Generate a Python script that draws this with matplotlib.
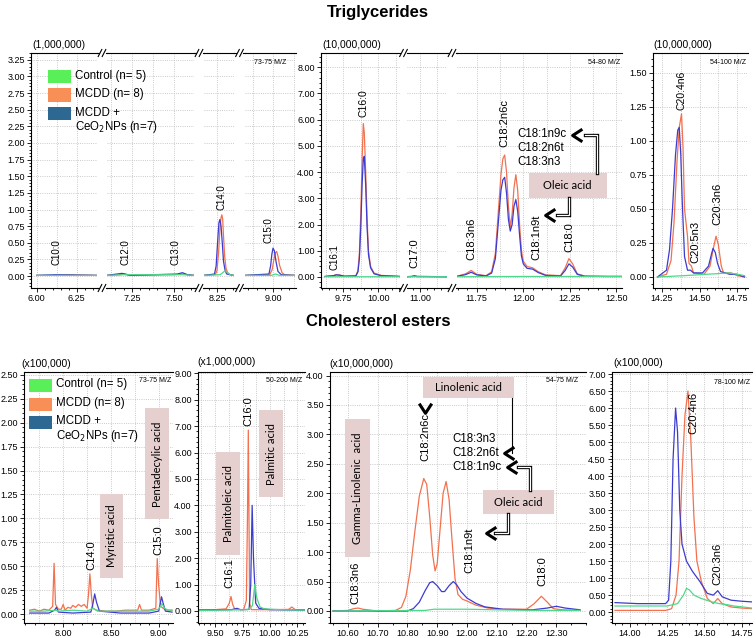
import matplotlib.pyplot as plt
from matplotlib.lines import Line2D
from matplotlib.patches import Rectangle
from matplotlib.path import Path
from matplotlib.ticker import FixedLocator, FixedFormatter, MultipleLocator, FormatStrFormatter
import numpy as np

W, H = 756, 638
plt.rcParams['font.family'] = ['Liberation Sans', 'DejaVu Sans']

GREEN = '#4ed98a'
ORANGE = '#f2714f'
BLUE = '#3c3cd0'
LEGEND_COLORS = ['#58ef58', '#f78f57', '#2d6892']
LEGEND_LABELS = ['Control (n= 5)', 'MCDD (n= 8)', 'MCDD +\nCeO$_2$NPs (n=7)']
BOX = '#e6cfcf'
GRID = '#b8b8b8'

# ---------------- Triglycerides, 73-75 M/Z (x 1,000,000) ----------------
TL_X_CTRL = [6.00, 6.37, 7.10, 7.20, 7.55, 7.62, 8.17, 8.27, 8.29, 8.30, 8.315, 8.33, 8.35,
             8.83, 8.99, 9.015, 9.04, 9.13]
TL_Y_CTRL = [0.01, 0.01, 0.01, 0.02, 0.02, 0.01, 0.01, 0.02, 0.06, 0.08, 0.05, 0.02, 0.01,
             0.01, 0.01, 0.03, 0.01, 0.01]
TL_X_MCDD = [6.00, 6.10, 6.20, 6.37, 7.10, 7.18, 7.20, 7.23, 7.50, 7.55, 7.58, 7.62,
             8.17, 8.24, 8.25, 8.26, 8.268, 8.275, 8.28, 8.285, 8.29, 8.297, 8.305, 8.315, 8.33, 8.35,
             8.83, 8.98, 8.995, 9.005, 9.015, 9.022, 9.03, 9.04, 9.055, 9.07, 9.13]
TL_Y_MCDD = [0.01, 0.01, 0.02, 0.01, 0.01, 0.02, 0.03, 0.01, 0.02, 0.03, 0.02, 0.01,
             0.01, 0.02, 0.08, 0.35, 0.70, 0.88, 0.92, 0.85, 0.60, 0.30, 0.12, 0.05, 0.02, 0.01,
             0.01, 0.02, 0.10, 0.25, 0.35, 0.37, 0.30, 0.16, 0.05, 0.02, 0.01]
TL_X_CEO = [6.00, 6.12, 6.37, 7.10, 7.19, 7.21, 7.24, 7.52, 7.55, 7.58, 7.62,
            8.17, 8.235, 8.245, 8.255, 8.262, 8.268, 8.275, 8.283, 8.29, 8.30, 8.31, 8.33, 8.35,
            8.83, 8.975, 8.985, 8.993, 9.00, 9.008, 9.018, 9.03, 9.05, 9.13]
TL_Y_CEO = [0.01, 0.02, 0.01, 0.01, 0.04, 0.03, 0.01, 0.03, 0.05, 0.02, 0.01,
            0.01, 0.03, 0.15, 0.55, 0.80, 0.85, 0.75, 0.48, 0.22, 0.08, 0.03, 0.02, 0.01,
            0.01, 0.03, 0.15, 0.33, 0.42, 0.38, 0.22, 0.07, 0.02, 0.01]

# ---------------- Triglycerides, 54-80 M/Z (x 10,000,000) ----------------
TM_X_CTRL = [9.62, 10.16, 10.90, 11.19, 11.64, 12.00, 12.54]
TM_Y_CTRL = [0.01, 0.01, 0.01, 0.01, 0.01, 0.02, 0.02]
TM_X = [9.62, 9.68, 9.70, 9.72, 9.76, 9.84, 9.855, 9.865, 9.875, 9.885, 9.893, 9.90, 9.91, 9.92,
        9.93, 9.945, 9.97, 10.02, 10.16,
        10.90, 10.94, 10.96, 10.98, 11.19,
        11.64, 11.69, 11.72, 11.75, 11.80, 11.83, 11.85, 11.865, 11.88, 11.89, 11.90, 11.91, 11.92,
        11.93, 11.94, 11.95, 11.96, 11.97, 11.98, 11.99, 12.00, 12.02, 12.05, 12.08, 12.12, 12.20,
        12.225, 12.245, 12.265, 12.29, 12.33, 12.45, 12.54]
TM_Y_MCDD = [0.02, 0.05, 0.09, 0.08, 0.03, 0.05, 0.25, 0.9, 2.4, 4.6, 5.85, 5.5, 4.0, 2.2,
             1.0, 0.4, 0.15, 0.06, 0.02,
             0.01, 0.02, 0.05, 0.02, 0.01,
             0.02, 0.12, 0.25, 0.10, 0.05, 0.2, 0.9, 2.4, 3.9, 4.5, 4.65, 4.0, 2.7,
             1.9, 2.4, 3.4, 3.9, 3.3, 2.0, 1.0, 0.6, 0.4, 0.35, 0.2, 0.08, 0.05,
             0.35, 0.7, 0.5, 0.12, 0.03, 0.02, 0.02]
TM_Y_CEO = [0.02, 0.05, 0.08, 0.07, 0.03, 0.04, 0.2, 0.7, 1.9, 3.6, 4.5, 4.6, 3.5, 1.9,
            0.85, 0.35, 0.12, 0.05, 0.02,
            0.01, 0.02, 0.04, 0.02, 0.01,
            0.02, 0.09, 0.18, 0.08, 0.04, 0.15, 0.7, 2.0, 3.3, 3.7, 3.8, 3.2, 2.2,
            1.75, 2.0, 2.7, 2.95, 2.5, 1.6, 0.8, 0.5, 0.33, 0.3, 0.17, 0.06, 0.04,
            0.25, 0.5, 0.38, 0.1, 0.03, 0.02, 0.02]

# ---------------- Triglycerides, 54-100 M/Z (x 10,000,000) ----------------
TR_X_CTRL = [14.22, 14.40, 14.55, 14.70, 14.80]
TR_Y_CTRL = [0.0, 0.01, 0.02, 0.03, 0.01]
TR_X_MCDD = [14.22, 14.28, 14.31, 14.33, 14.35, 14.365, 14.38, 14.39, 14.40, 14.41, 14.42, 14.43,
             14.446, 14.46, 14.53, 14.57, 14.59, 14.61, 14.625, 14.645, 14.66, 14.71, 14.75, 14.80]
TR_Y_MCDD = [0.0, 0.02, 0.12, 0.40, 0.85, 1.10, 1.20, 0.95, 0.50, 0.40, 0.30, 0.10,
             0.08, 0.03, 0.02, 0.08, 0.20, 0.30, 0.24, 0.08, 0.03, 0.03, 0.01, 0.0]
TR_X_CEO = [14.22, 14.28, 14.30, 14.32, 14.34, 14.355, 14.365, 14.375, 14.385, 14.40, 14.42,
            14.44, 14.46, 14.52, 14.56, 14.58, 14.59, 14.605, 14.62, 14.64, 14.70, 14.75, 14.80]
TR_Y_CEO = [0.0, 0.05, 0.20, 0.50, 0.90, 1.08, 1.10, 0.90, 0.55, 0.15, 0.05,
            0.05, 0.03, 0.03, 0.08, 0.17, 0.21, 0.18, 0.10, 0.04, 0.02, 0.02, 0.0]

# ---------------- Cholesterol esters, 73-75 M/Z (x 100,000) ----------------
BL_X_CTRL = [7.65, 7.80, 7.92, 7.95, 8.10, 8.25, 8.31, 8.33, 8.36, 8.50, 8.70, 8.90,
             9.00, 9.035, 9.06, 9.10, 9.14]
BL_Y_CTRL = [0.03, 0.03, 0.04, 0.03, 0.04, 0.03, 0.06, 0.05, 0.03, 0.03, 0.03, 0.03,
             0.05, 0.11, 0.06, 0.04, 0.04]
BL_X_MCDD = [7.65, 7.70, 7.75, 7.80, 7.85, 7.89, 7.905, 7.92, 7.95, 7.98, 8.00, 8.02, 8.05,
             8.08, 8.10, 8.13, 8.16, 8.19, 8.22, 8.25, 8.265, 8.28, 8.295, 8.31, 8.35, 8.45,
             8.55, 8.65, 8.78, 8.80, 8.82, 8.90, 8.97, 8.985, 9.00, 9.02, 9.06, 9.10, 9.14]
BL_Y_MCDD = [0.04, 0.05, 0.03, 0.05, 0.04, 0.08, 0.53, 0.10, 0.05, 0.05, 0.10, 0.04, 0.07,
             0.06, 0.09, 0.07, 0.10, 0.08, 0.10, 0.06, 0.20, 0.42, 0.20, 0.06, 0.04, 0.03,
             0.03, 0.04, 0.04, 0.10, 0.04, 0.04, 0.06, 0.58, 0.30, 0.08, 0.05, 0.04, 0.04]
BL_X_CEO = [7.65, 7.85, 7.91, 7.93, 7.95, 8.10, 8.29, 8.31, 8.33, 8.35, 8.38, 8.60, 8.90,
            9.00, 9.015, 9.03, 9.045, 9.07, 9.14]
BL_Y_CEO = [0.01, 0.01, 0.04, 0.07, 0.02, 0.01, 0.02, 0.10, 0.21, 0.12, 0.03, 0.01, 0.01,
            0.03, 0.10, 0.18, 0.12, 0.03, 0.02]

# ---------------- Cholesterol esters, 50-200 M/Z (x 1,000,000) ----------------
B2_X_CTRL = [9.36, 9.80, 9.84, 9.862, 9.88, 9.91, 9.95, 10.10, 10.32]
B2_Y_CTRL = [0.02, 0.05, 0.20, 1.00, 0.50, 0.15, 0.08, 0.05, 0.03]
B2_X_MCDD = [9.36, 9.50, 9.60, 9.63, 9.645, 9.66, 9.68, 9.76, 9.785, 9.795, 9.803, 9.81,
             9.815, 9.83, 10.00, 10.17, 10.20, 10.23, 10.32]
B2_Y_MCDD = [0.05, 0.05, 0.08, 0.30, 0.55, 0.25, 0.06, 0.05, 0.40, 3.50, 6.85, 3.00,
             0.30, 0.05, 0.05, 0.06, 0.15, 0.05, 0.05]
B2_X_CEO = [9.36, 9.65, 9.70, 9.73, 9.81, 9.825, 9.838, 9.85, 9.87, 9.90, 10.00, 10.32]
B2_Y_CEO = [0.03, 0.05, 0.10, 0.05, 0.06, 1.00, 4.00, 2.00, 0.30, 0.10, 0.05, 0.03]

# ---------------- Cholesterol esters, 54-75 M/Z (x 10,000,000) ----------------
B3_TICKS = [10.60, 10.70, 10.80, 10.90, 11.00, 11.10, 11.20, 11.30]
B3_TICKLABELS = ['10.60', '10.70', '10.80', '10.90', '12.00', '12.10', '12.20', '12.30']
B3_X_CTRL = [10.55, 10.86, 10.89, 11.00, 11.10, 11.25, 11.38]
B3_Y_CTRL = [0.0, 0.01, 0.03, 0.03, 0.02, 0.01, 0.01]
B3_X_MCDD = [10.55, 10.60, 10.62, 10.635, 10.65, 10.70, 10.76, 10.78, 10.795, 10.81, 10.825,
             10.84, 10.855, 10.865, 10.875, 10.885, 10.893, 10.90, 10.91, 10.92, 10.93, 10.94,
             10.95, 10.96, 10.97, 10.985, 11.00, 11.03, 11.07, 11.12, 11.20, 11.225, 11.25,
             11.27, 11.29, 11.32, 11.38]
B3_Y_MCDD = [0.0, 0.01, 0.04, 0.05, 0.03, 0.0, 0.01, 0.06, 0.25, 0.70, 1.35,
             1.95, 2.25, 2.15, 1.60, 0.95, 0.68, 0.80, 1.40, 2.00, 2.20, 1.90,
             1.20, 0.55, 0.28, 0.20, 0.17, 0.10, 0.05, 0.03, 0.03, 0.12, 0.25,
             0.15, 0.04, 0.02, 0.01]
B3_X_CEO = [10.55, 10.80, 10.82, 10.84, 10.86, 10.875, 10.885, 10.90, 10.915, 10.925, 10.94,
            10.954, 10.965, 10.98, 11.00, 11.03, 11.06, 11.12, 11.22, 11.27, 11.30, 11.33, 11.38]
B3_Y_CEO = [0.0, 0.0, 0.04, 0.15, 0.35, 0.48, 0.50, 0.43, 0.33, 0.33, 0.43,
            0.50, 0.45, 0.33, 0.22, 0.13, 0.07, 0.03, 0.02, 0.05, 0.08, 0.05, 0.02]

# ---------------- Cholesterol esters, 78-100 M/Z (x 100,000) ----------------
BR_X_CTRL = [13.90, 14.10, 14.25, 14.32, 14.36, 14.38, 14.40, 14.43, 14.48, 14.55, 14.60,
             14.65, 14.70, 14.82]
BR_Y_CTRL = [0.18, 0.18, 0.18, 0.25, 0.50, 0.70, 0.65, 0.50, 0.40, 0.30, 0.25,
             0.22, 0.18, 0.12]
BR_X_MCDD = [13.90, 14.10, 14.24, 14.28, 14.31, 14.33, 14.35, 14.37, 14.39, 14.41, 14.43,
             14.45, 14.48, 14.52, 14.56, 14.59, 14.62, 14.68, 14.75, 14.82]
BR_Y_MCDD = [0.05, 0.05, 0.05, 0.10, 0.50, 1.50, 4.00, 5.80, 6.50, 5.00, 2.80,
             1.50, 0.90, 0.40, 0.25, 0.40, 0.25, 0.15, 0.12, 0.10]
BR_X_CEO = [13.90, 14.05, 14.15, 14.24, 14.26, 14.275, 14.29, 14.307, 14.32, 14.335, 14.35,
            14.38, 14.42, 14.47, 14.52, 14.56, 14.59, 14.62, 14.68, 14.75, 14.82]
BR_Y_CEO = [0.28, 0.25, 0.25, 0.25, 0.35, 1.50, 4.50, 6.00, 5.30, 3.00, 2.00,
            1.50, 1.20, 0.90, 0.55, 0.50, 0.63, 0.45, 0.35, 0.32, 0.30]


fig = plt.figure(figsize=(W / 100, H / 100), dpi=100)


def fx(x):
    return x / W


def fy(y):
    return 1 - y / H


def make_ax(x0, x1, y0, y1, xlim, ylim, xmajor, xminor, xgrid, ystep, left=True, xlabels=None):
    ax = fig.add_axes([fx(x0), fy(y1), (x1 - x0) / W, (y1 - y0) / H])
    ax.set_xlim(*xlim)
    ax.set_ylim(*ylim)
    ax.spines['right'].set_visible(False)
    if not left:
        ax.spines['left'].set_visible(False)
    for s in ax.spines.values():
        s.set_linewidth(0.8)
    ax.xaxis.set_major_locator(FixedLocator(xmajor))
    if xlabels:
        ax.xaxis.set_major_formatter(FixedFormatter(xlabels))
    else:
        ax.xaxis.set_major_formatter(FormatStrFormatter('%.2f'))
    ax.xaxis.set_minor_locator(MultipleLocator(xminor))
    ax.yaxis.set_major_locator(MultipleLocator(ystep))
    ax.yaxis.set_minor_locator(MultipleLocator(ystep / 5))
    ax.yaxis.set_major_formatter(FormatStrFormatter('%.2f'))
    ax.tick_params(which='both', direction='out', labelsize=6.5, width=0.6, pad=1.5)
    ax.tick_params(which='major', length=3)
    ax.tick_params(which='minor', length=1.5)
    ax.tick_params(axis='x', which='both', top=False)
    if not left:
        ax.tick_params(axis='y', which='both', left=False, labelleft=False)
    start = np.ceil(xlim[0] / xgrid - 1e-6) * xgrid
    for gx in np.arange(start, xlim[1], xgrid):
        ax.axvline(gx, color=GRID, ls=':', lw=0.6, zorder=0)
    ax.yaxis.grid(True, ls=':', color=GRID, lw=0.6)
    ax.set_axisbelow(True)
    ax.patch.set_alpha(0)
    return ax


def curves(ax, ctrl, mcdd, ceo):
    ax.plot(mcdd[0], mcdd[1], color=ORANGE, lw=0.9)
    ax.plot(ceo[0], ceo[1], color=BLUE, lw=0.9)
    ax.plot(ctrl[0], ctrl[1], color=GREEN, lw=0.9)


def peak_label(ax, x, y, text, size=8):
    ax.text(x, y, text, rotation=90, ha='center', va='bottom', fontsize=size)


def pink_box(ax, x0, x1, y0, y1, text, vertical=False, size=8):
    ax.add_patch(Rectangle((x0, y0), x1 - x0, y1 - y0, facecolor=BOX, edgecolor='none',
                           clip_on=False, zorder=3))
    ax.text((x0 + x1) / 2, (y0 + y1) / 2, text, ha='center', va='center', fontsize=size,
            rotation=90 if vertical else 0, family=['Lato', 'DejaVu Sans'], zorder=4)


CHEV_LEFT = Path([(0.7, 0.9), (-0.7, 0.0), (0.7, -0.9)], [Path.MOVETO, Path.LINETO, Path.LINETO])
CHEV_DOWN = Path([(-0.9, 0.7), (0.0, -0.7), (0.9, 0.7)], [Path.MOVETO, Path.LINETO, Path.LINETO])


def chevron(ax, x, y, shape=CHEV_LEFT, size=9):
    ax.plot([x], [y], marker=shape, ms=size, mew=2.2, mec='black', mfc='none',
            clip_on=False, zorder=5)


def double_line(ax, xs, ys):
    ax.plot(xs, ys, color='black', lw=2.4, clip_on=False, zorder=4, solid_joinstyle='miter')
    ax.plot(xs, ys, color='white', lw=0.9, clip_on=False, zorder=4, solid_joinstyle='miter')


def breaks(xa, xb, ys):
    xc = (xa + xb) / 2
    for y in ys:
        fig.add_artist(Line2D([fx(xa), fx(xc - 3.5)], [fy(y), fy(y)], color='black', lw=0.8))
        fig.add_artist(Line2D([fx(xc + 3.5), fx(xb)], [fy(y), fy(y)], color='black', lw=0.8))
        for dx in (-2, 2):
            fig.add_artist(Line2D([fx(xc + dx - 1.8), fx(xc + dx + 1.8)], [fy(y + 3.5), fy(y - 3.5)],
                                  color='black', lw=0.8))


def legend(x0, y0, dy):
    for i, (c, lab) in enumerate(zip(LEGEND_COLORS, LEGEND_LABELS)):
        top = y0 + i * dy
        fig.patches.append(Rectangle((fx(x0), fy(top + 13)), 23 / W, 13 / H,
                                     transform=fig.transFigure, facecolor=c, edgecolor='none'))
        fig.text(fx(x0 + 27), fy(top - 0.5), lab, ha='left', va='top', fontsize=8.3,
                 linespacing=1.05)


def small(x, y, text, size=5):
    fig.text(fx(x), fy(y), text, ha='right', va='center', fontsize=size)


def scale_label(x, y, text):
    fig.text(fx(x), fy(y), text, ha='left', va='center', fontsize=7.5)


# ======================= Triglycerides =======================
fig.text(0.5, fy(12), 'Triglycerides', ha='center', va='center', fontsize=12, weight='bold')
TOP, BOT = 53, 288

tl_ctrl = (TL_X_CTRL, TL_Y_CTRL)
tl_mcdd = (TL_X_MCDD, TL_Y_MCDD)
tl_ceo = (TL_X_CEO, TL_Y_CEO)
tl_ylim = (-0.18, 3.353)
tl_segs = [
    (31, 97, (5.964, 6.377), [6.00, 6.25]),
    (107, 194, (7.101, 7.619), [7.25, 7.50]),
    (204, 234, (8.171, 8.354), [8.25]),
    (245, 296, (8.829, 9.140), [9.00]),
]
tl_axes = []
for i, (a, b, xl, ticks) in enumerate(tl_segs):
    ax = make_ax(a, b, TOP, BOT, xl, tl_ylim, ticks, 0.05, 0.125, 0.25, left=(i == 0))
    curves(ax, tl_ctrl, tl_mcdd, tl_ceo)
    tl_axes.append(ax)
for (a, b, _, _), (c, d, _, _) in zip(tl_segs[:-1], tl_segs[1:]):
    breaks(b, c, [TOP, BOT])
peak_label(tl_axes[0], 6.125, 0.17, 'C10:0', 7)
peak_label(tl_axes[1], 7.21, 0.17, 'C12:0', 7)
peak_label(tl_axes[1], 7.51, 0.17, 'C13:0', 7)
peak_label(tl_axes[2], 8.28, 0.99, 'C14:0', 7)
peak_label(tl_axes[3], 8.975, 0.50, 'C15:0', 7)
scale_label(32, 45, '(1,000,000)')
small(286, 62, '73-75 M/Z')
legend(48, 70, 18.5)

tm_ctrl = (TM_X_CTRL, TM_Y_CTRL)
tm_mcdd = (TM_X, TM_Y_MCDD)
tm_ceo = (TM_X, TM_Y_CEO)
tm_ylim = (-0.42, 8.54)
tm_segs = [
    (321, 400, (9.591, 10.155), [9.75, 10.00]),
    (407, 447, (10.907, 11.193), [11.00]),
    (457, 622, (11.644, 12.530), [11.75, 12.00, 12.25, 12.50]),
]
tm_axes = []
for i, (a, b, xl, ticks) in enumerate(tm_segs):
    ax = make_ax(a, b, TOP, BOT, xl, tm_ylim, ticks, 0.05, 0.125, 1.0, left=(i == 0))
    curves(ax, tm_ctrl, tm_mcdd, tm_ceo)
    tm_axes.append(ax)
for (a, b, _, _), (c, d, _, _) in zip(tm_segs[:-1], tm_segs[1:]):
    breaks(b, c, [TOP, BOT])
peak_label(tm_axes[0], 9.69, 0.27, 'C16:1', 7)
peak_label(tm_axes[0], 9.893, 6.1, 'C16:0', 7.5)
peak_label(tm_axes[1], 10.96, 0.35, 'C17:0', 8)
ax = tm_axes[2]
peak_label(ax, 11.72, 0.65, 'C18:3n6', 8)
peak_label(ax, 11.90, 4.94, 'C18:2n6c', 8)
peak_label(ax, 12.07, 0.65, 'C18:1n9t', 8)
peak_label(ax, 12.25, 0.95, 'C18:0', 8)
for yy, t in zip([5.45, 4.90, 4.38], ['C18:1n9c', 'C18:2n6t', 'C18:3n3']):
    ax.text(11.966, yy, t, ha='left', va='center', fontsize=8.3)
pink_box(ax, 12.03, 12.447, 3.03, 3.98, 'Oleic acid')
double_line(ax, [12.33, 12.398, 12.398], [5.42, 5.42, 3.98])
chevron(ax, 12.29, 5.42)
double_line(ax, [12.246, 12.246, 12.18], [3.03, 2.38, 2.38])
chevron(ax, 12.145, 2.38)
scale_label(322, 45, '(10,000,000)')
small(620, 62, '54-80 M/Z')

ax = make_ax(653, 748, TOP, BOT, (14.19, 14.823), (-0.081, 1.647), [14.25, 14.50, 14.75],
             0.05, 0.125, 0.25)
curves(ax, (TR_X_CTRL, TR_Y_CTRL), (TR_X_MCDD, TR_Y_MCDD), (TR_X_CEO, TR_Y_CEO))
peak_label(ax, 14.38, 1.23, 'C20:4n6', 7.5)
peak_label(ax, 14.47, 0.10, 'C20:5n3', 8)
peak_label(ax, 14.62, 0.38, 'C20:3n6', 8)
scale_label(653, 45, '(10,000,000)')
small(746, 62, '54-100 M/Z')

# ======================= Cholesterol esters =======================
fig.text(0.5, fy(322), 'Cholesterol esters', ha='center', va='center', fontsize=12, weight='bold')
TOP2, BOT2 = 372, 623

ax = make_ax(24, 173, TOP2, BOT2, (7.59, 9.15), (-0.094, 2.53), [8.00, 8.50, 9.00],
             0.1, 0.25, 0.25)
curves(ax, (BL_X_CTRL, BL_Y_CTRL), (BL_X_MCDD, BL_Y_MCDD), (BL_X_CEO, BL_Y_CEO))
peak_label(ax, 8.30, 0.46, 'C14:0')
peak_label(ax, 9.00, 0.62, 'C15:0')
pink_box(ax, 8.39, 8.63, 0.38, 1.25, 'Myristic acid', vertical=True)
pink_box(ax, 8.86, 9.11, 0.99, 2.15, 'Pentadecylic acid', vertical=True)
scale_label(21, 364, '(x100,000)')
small(171, 381, '73-75 M/Z')
legend(29, 379, 18.5)

ax = make_ax(198, 305, TOP2, BOT2, (9.344, 10.32), (-0.455, 9.05), [9.50, 9.75, 10.00, 10.25],
             0.05, 0.125, 1.0)
curves(ax, (B2_X_CTRL, B2_Y_CTRL), (B2_X_MCDD, B2_Y_MCDD), (B2_X_CEO, B2_Y_CEO))
peak_label(ax, 9.63, 0.87, 'C16:1')
peak_label(ax, 9.80, 7.0, 'C16:0')
pink_box(ax, 9.51, 9.73, 2.12, 6.03, 'Palmitoleic acid', vertical=True)
pink_box(ax, 9.90, 10.12, 4.30, 7.60, 'Palmitic acid', vertical=True)
scale_label(197, 362, '(x1,000,000)')
small(302, 381, '50-200 M/Z')

ax = make_ax(330, 586, TOP2, BOT2, (10.54, 11.40), (-0.204, 4.06), B3_TICKS,
             0.05, 0.1, 0.5, xlabels=B3_TICKLABELS)
curves(ax, (B3_X_CTRL, B3_Y_CTRL), (B3_X_MCDD, B3_Y_MCDD), (B3_X_CEO, B3_Y_CEO))
peak_label(ax, 10.624, 0.12, 'C18:3n6')
peak_label(ax, 10.86, 2.55, 'C18:2n6c')
peak_label(ax, 11.007, 0.65, 'C18:1n9t')
peak_label(ax, 11.255, 0.43, 'C18:0')
pink_box(ax, 10.59, 10.674, 0.91, 3.27, 'Gamma-Linolenic  acid', vertical=True)
pink_box(ax, 10.852, 11.158, 3.62, 3.98, 'Linolenic acid')
pink_box(ax, 11.054, 11.292, 1.64, 2.05, 'Oleic acid')
chevron(ax, 10.86, 3.45, CHEV_DOWN)
for yy, t in zip([2.92, 2.69, 2.44], ['C18:3n3', 'C18:2n6t', 'C18:1n9c']):
    ax.text(10.95, yy, t, ha='left', va='center', fontsize=8.3)
ax.plot([11.151, 11.151], [3.62, 2.69], color='black', lw=0.8, zorder=4)
chevron(ax, 11.14, 2.69)
double_line(ax, [11.172, 11.212, 11.212], [2.44, 2.44, 2.05])
chevron(ax, 11.152, 2.44)
double_line(ax, [11.138, 11.138, 11.094], [1.64, 1.32, 1.32])
chevron(ax, 11.08, 1.32)
scale_label(329, 364, '(x10,000,000)')
small(578, 381, '54-75 M/Z')

ax = make_ax(612, 752, TOP2, BOT2, (13.88, 14.82), (-0.32, 7.06), [14.00, 14.25, 14.50, 14.75],
             0.05, 0.125, 0.5)
curves(ax, (BR_X_CTRL, BR_Y_CTRL), (BR_X_MCDD, BR_Y_MCDD), (BR_X_CEO, BR_Y_CEO))
peak_label(ax, 14.425, 5.25, 'C20:4n6')
peak_label(ax, 14.59, 0.79, 'C20:3n6')
scale_label(613, 363, '(x100,000)')
small(750, 383, '78-100 M/Z')

fig.savefig('out.png', dpi=100)
